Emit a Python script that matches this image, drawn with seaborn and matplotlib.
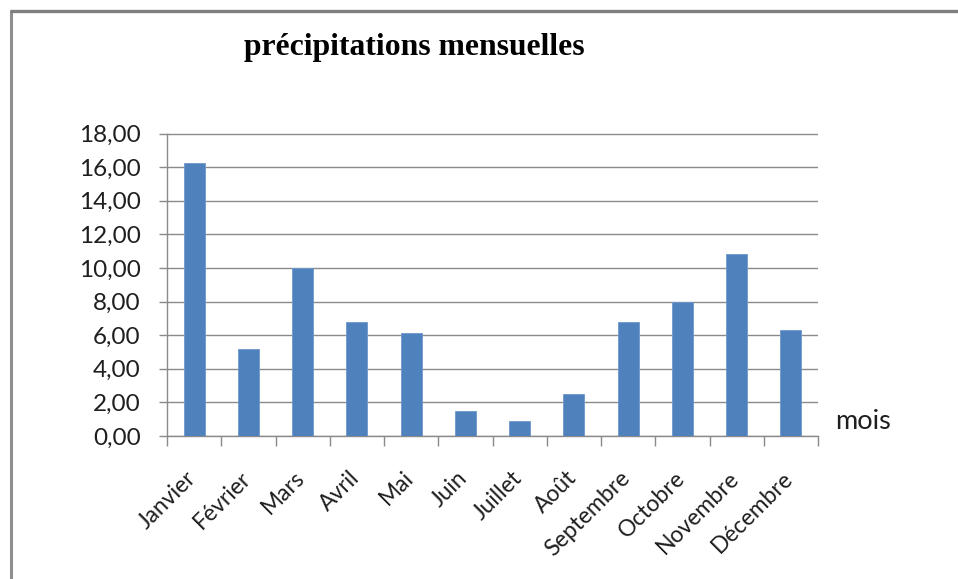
import matplotlib
matplotlib.use("Agg")
import matplotlib.pyplot as plt
from matplotlib.lines import Line2D
from matplotlib.ticker import FuncFormatter, FixedLocator
from matplotlib.transforms import ScaledTranslation
import seaborn as sns
import pandas as pd

mois = ["Janvier", "Février", "Mars", "Avril", "Mai", "Juin", "Juillet",
        "Août", "Septembre", "Octobre", "Novembre", "Décembre"]
precipitations = [16.25, 5.2, 10.0, 6.8, 6.1, 1.5, 0.9, 2.5, 6.8, 7.95, 10.8, 6.3]
yticks = [0, 2, 4, 6, 8, 10, 12, 14, 16, 18]

df = pd.DataFrame({"mois": mois, "precip": precipitations})

sns.set_theme(style="white")
plt.rcParams["font.family"] = ["Lato", "DejaVu Sans"]

W, H = 958, 579
fig = plt.figure(figsize=(W / 100, H / 100), dpi=100)
fig.patch.set_facecolor("white")

# outer chart frame (left and top edges)
frame_col = "#8f8f8f"
fig.add_artist(Line2D([10.5 / W, 10.5 / W], [0, 1 - 10 / H], transform=fig.transFigure,
                      color=frame_col, linewidth=2.2, solid_capstyle="butt"))
fig.add_artist(Line2D([9.5 / W, 1], [1 - 10.5 / H, 1 - 10.5 / H], transform=fig.transFigure,
                      color="#7f7f7f", linewidth=2.4, solid_capstyle="butt"))

ax = fig.add_axes([167 / W, (H - 436) / H, (818 - 167) / W, (436 - 133.5) / H])

sns.barplot(data=df, x="mois", y="precip", ax=ax, color="#4F81BD",
            width=0.39, saturation=1, edgecolor="#6f97cc", linewidth=0.6,
            zorder=3)

grid_col = "#8a8a8a"
text_col = "#1f1f1f"
ax.set_ylim(0, 18)
ax.set_xlim(-0.5, len(mois) - 0.5)
ax.set_yticks(yticks)
ax.yaxis.set_major_formatter(FuncFormatter(lambda v, p: f"{v:.2f}".replace(".", ",")))
ax.grid(axis="y", color=grid_col, linewidth=1.0, zorder=0)
ax.set_axisbelow(True)

for s in ["top", "right"]:
    ax.spines[s].set_visible(False)
for s in ["left", "bottom"]:
    ax.spines[s].set_color(grid_col)
    ax.spines[s].set_linewidth(1.0)

ax.tick_params(axis="y", which="major", length=6, width=1, color=grid_col,
               direction="out", left=True, labelsize=17.5, labelcolor=text_col, pad=13)
ax.tick_params(axis="x", which="major", length=0, labelsize=16.5,
               labelcolor=text_col, pad=28)
ax.xaxis.set_minor_locator(FixedLocator([i - 0.5 for i in range(len(mois) + 1)]))
ax.tick_params(axis="x", which="minor", length=7, width=1, color=grid_col,
               direction="out", bottom=True)

ax.set_xticks(range(len(mois)))
ax.set_xticklabels(mois, rotation=45, ha="right", va="center", rotation_mode="anchor")
shift = ScaledTranslation(-1 / 100, 0, fig.dpi_scale_trans)
for lab in ax.get_xticklabels():
    lab.set_transform(lab.get_transform() + shift)
ax.set_xlabel("")
ax.set_ylabel("")

fig.text(835 / W, 1 - 429 / H, "mois", fontsize=19.5, color=text_col,
         ha="left", va="baseline")

fig.text(244 / W, 1 - 55 / H, "précipitations mensuelles",
         family=["Liberation Serif", "DejaVu Serif"], fontweight="bold",
         fontsize=22.8, color="black", ha="left", va="baseline")

fig.savefig("out.png", dpi=100, facecolor="white")
